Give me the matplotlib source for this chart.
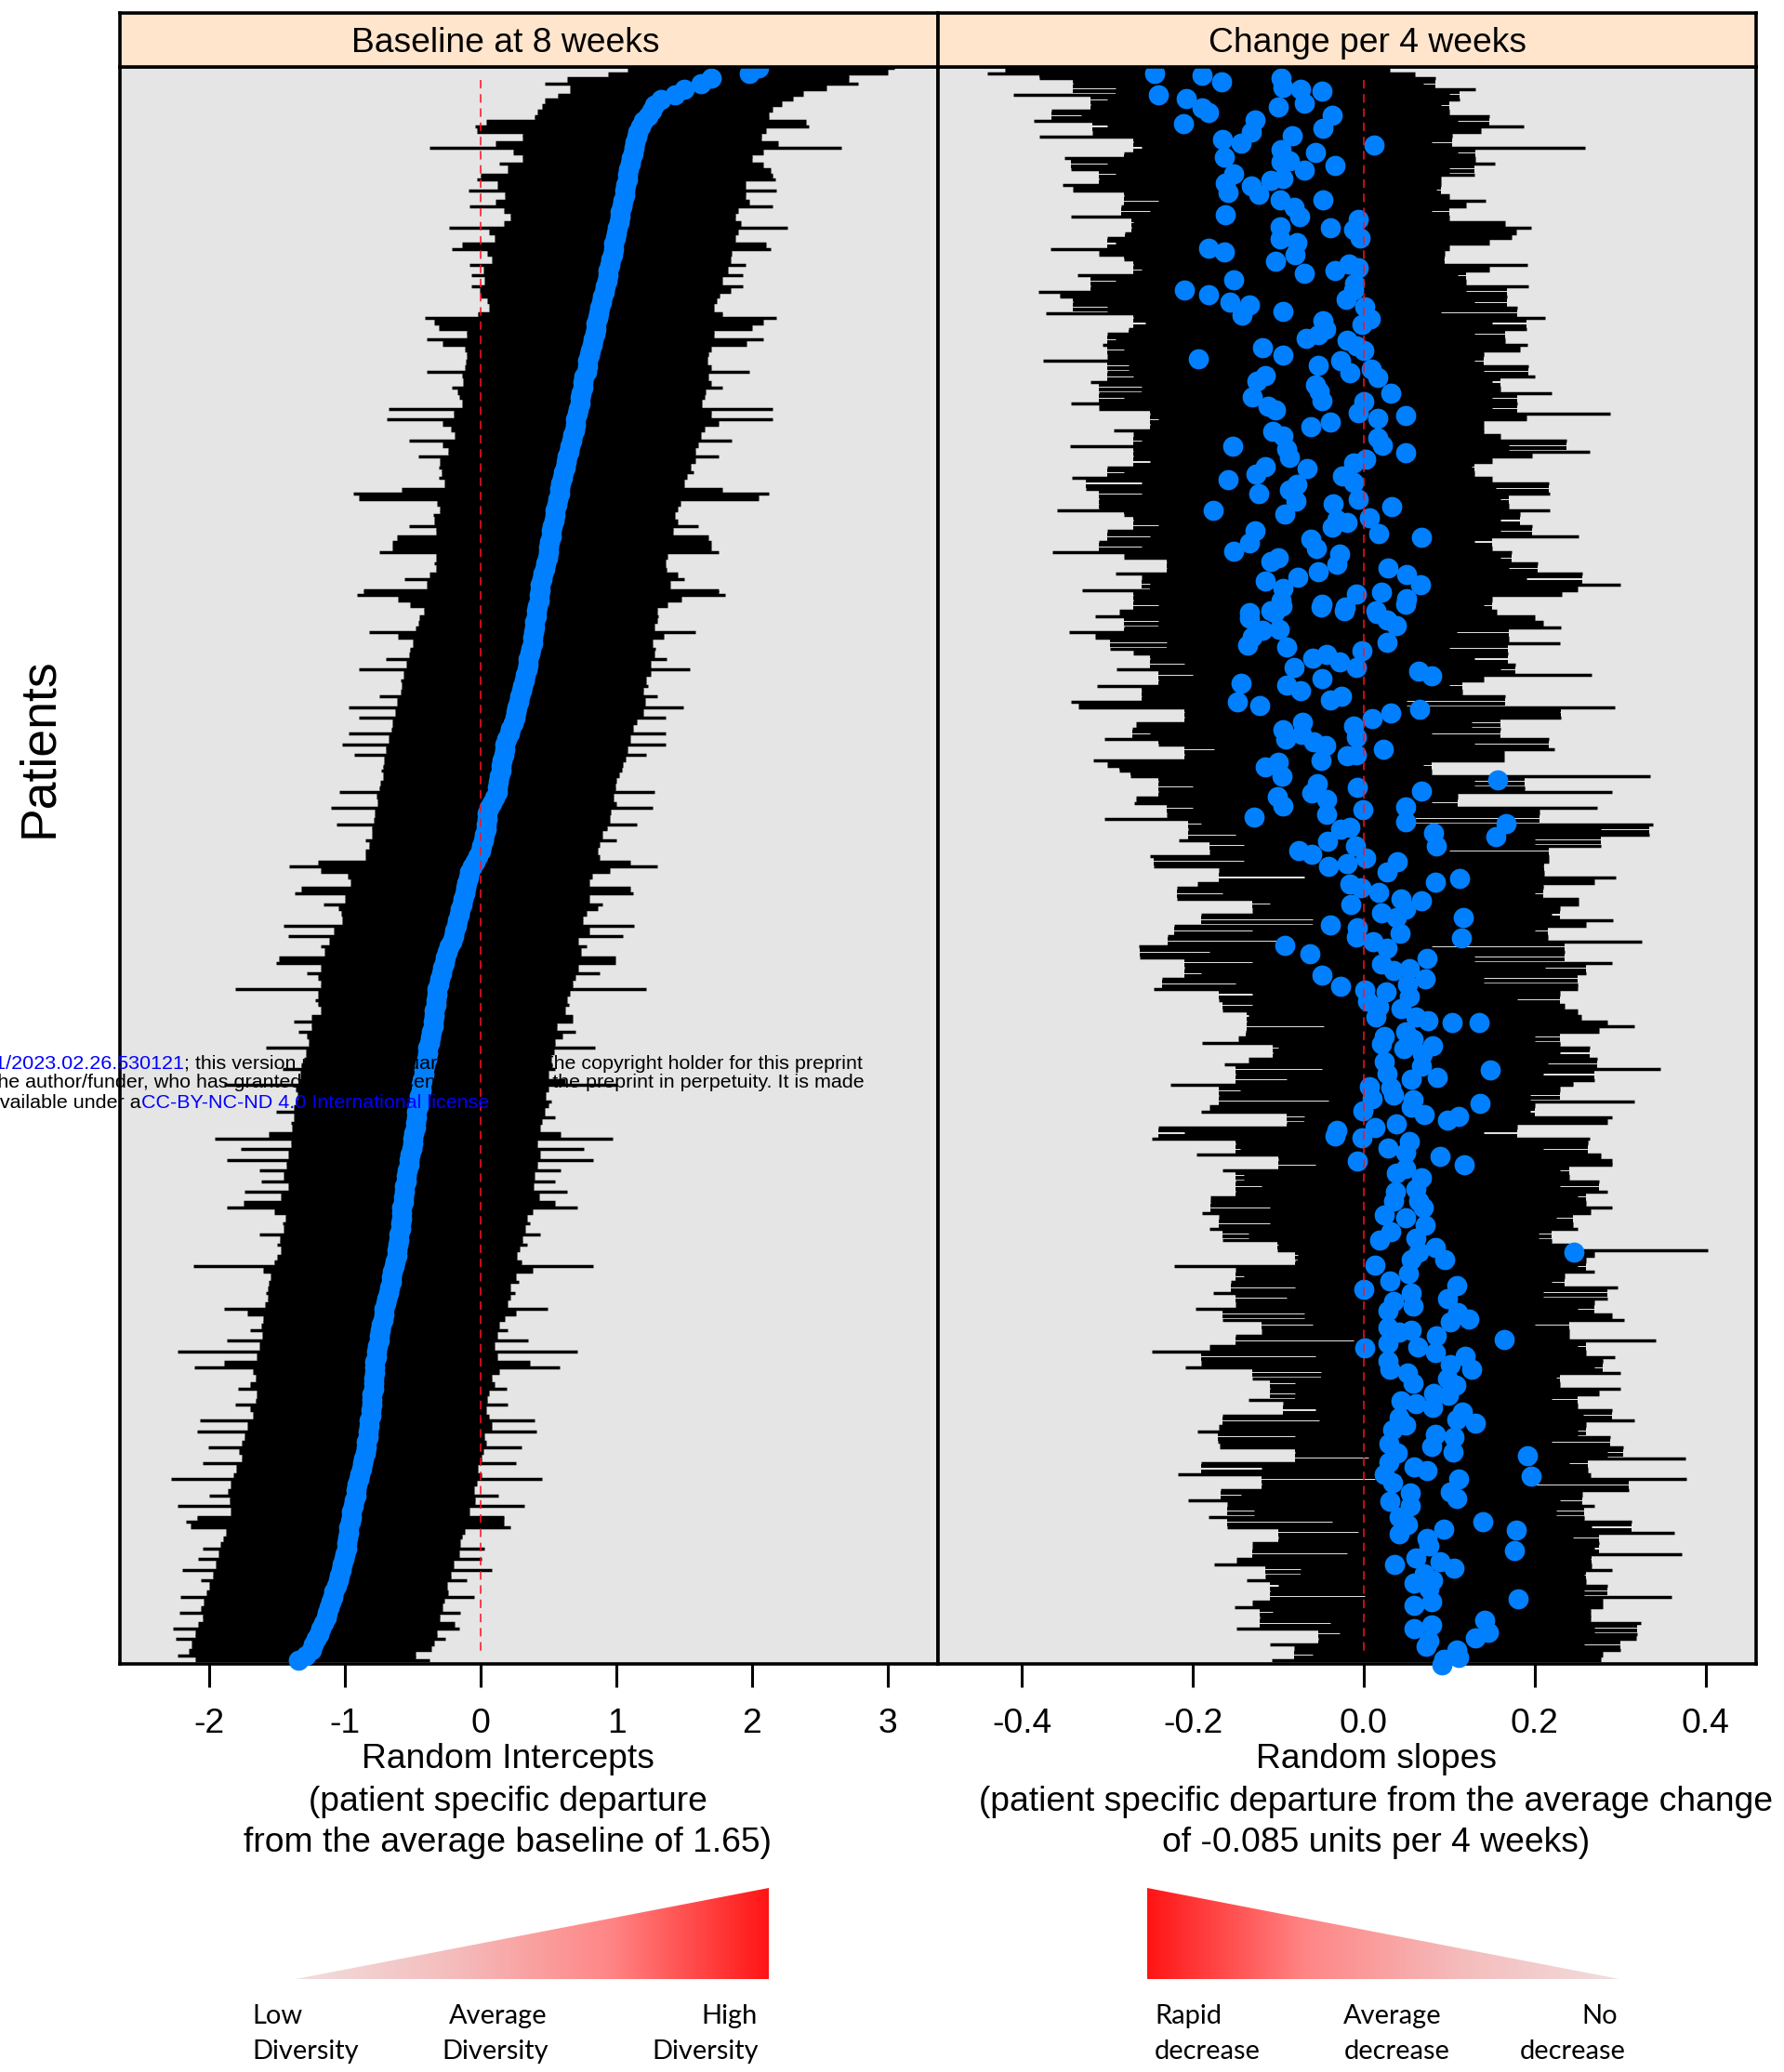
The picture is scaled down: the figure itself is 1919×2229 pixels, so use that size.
#!/usr/bin/env python
# caterpillar plot of patient random effects
import numpy as np
import matplotlib
matplotlib.use("Agg")
import matplotlib.pyplot as plt
from matplotlib.colors import LinearSegmentedColormap
from matplotlib.patches import Polygon

W, H = 1919, 2229

# left panel, one entry per row from top to bottom
intercept_mid = [
    2.05, 1.98, 1.70, 1.62, 1.50, 1.43, 1.33, 1.28, 1.26, 1.23,
    1.20, 1.18, 1.16, 1.15, 1.14, 1.13, 1.12, 1.11, 1.10, 1.09,
    1.08, 1.08, 1.07, 1.06, 1.06, 1.05, 1.04, 1.03, 1.03, 1.02,
    1.01, 1.00, .99, .98, .98, .97, .96, .95, .94, .94,
    .93, .92, .91, .90, .89, .88, .87, .86, .85, .85,
    .84, .83, .82, .81, .80, .79, .79, .78, .76, .75,
    .75, .74, .73, .73, .72, .71, .70, .70, .69, .68,
    .67, .66, .65, .64, .63, .62, .61, .60, .59, .58,
    .58, .57, .56, .55, .55, .54, .53, .52, .52, .51,
    .50, .50, .49, .48, .47, .46, .45, .44, .44, .43,
    .43, .42, .41, .41, .40, .40, .39, .38, .38, .37,
    .36, .35, .35, .34, .33, .32, .31, .30, .29, .28,
    .27, .26, .25, .24, .22, .21, .19, .18, .18, .17,
    .16, .15, .15, .14, .13, .12, .12, .10, .08, .06,
    .05, .05, .04, .04, .03, .02, .01, .00, -.02, -.04,
    -.06, -.08, -.09, -.10, -.11, -.12, -.13, -.14, -.15, -.16,
    -.17, -.18, -.19, -.20, -.21, -.23, -.25, -.26, -.27, -.28,
    -.29, -.30, -.31, -.32, -.32, -.33, -.33, -.34, -.34, -.35,
    -.35, -.36, -.37, -.38, -.39, -.39, -.40, -.41, -.42, -.42,
    -.43, -.44, -.44, -.45, -.45, -.46, -.47, -.47, -.48, -.48,
    -.49, -.50, -.50, -.51, -.52, -.53, -.53, -.54, -.55, -.55,
    -.56, -.56, -.57, -.57, -.58, -.58, -.58, -.59, -.59, -.60,
    -.60, -.61, -.62, -.62, -.63, -.64, -.65, -.66, -.66, -.67,
    -.68, -.69, -.70, -.71, -.71, -.72, -.73, -.74, -.75, -.75,
    -.76, -.77, -.77, -.78, -.78, -.78, -.79, -.79, -.79, -.80,
    -.80, -.80, -.81, -.81, -.82, -.82, -.83, -.83, -.84, -.84,
    -.85, -.86, -.87, -.88, -.89, -.90, -.91, -.92, -.92, -.93,
    -.94, -.95, -.95, -.96, -.97, -.97, -.98, -.99, -.99, -1.00,
    -1.01, -1.02, -1.03, -1.04, -1.05, -1.06, -1.08, -1.09, -1.10, -1.12,
    -1.13, -1.14, -1.16, -1.18, -1.19, -1.21, -1.23, -1.25, -1.29, -1.34,
]

intercept_lo = [
    1.08, .94, .64, .47, .66, .57, .47, .45, .42, .40,
    .04, -.04, -.03, .31, .11, -.38, .24, .31, .14, .20,
    .00, -.03, .12, -.09, .18, .11, -.08, .17, .22, .17,
    -.23, .06, .10, -.14, -.21, .05, .08, -.08, .02, -.07,
    .03, -.07, -.01, .00, .05, .06, -.02, -.41, -.34, -.31,
    -.10, -.40, -.28, -.12, -.10, -.11, -.12, -.40, -.14, -.13,
    -.21, -.17, -.16, -.14, -.68, -.20, -.69, -.28, -.22, -.19,
    -.53, -.28, -.24, -.46, -.30, -.31, -.29, -.31, -.27, -.58,
    -.94, -.90, -.32, -.30, -.35, -.34, -.53, -.33, -.62, -.65,
    -.65, -.75, -.33, -.34, -.33, -.38, -.56, -.40, -.86, -.91,
    -.61, -.52, -.42, -.45, -.46, -.48, -.82, -.61, -.50, -.52,
    -.53, -.70, -.55, -.90, -.57, -.59, -.58, -.59, -.75, -.62,
    -.97, -.63, -.90, -.65, -.66, -.97, -.68, -1.02, -.70, -.93,
    -.71, -.72, -.73, -.72, -.74, -.75, -1.04, -.77, -.76, -1.10,
    -.78, -.79, -1.06, -.80, -.80, -.85, -.82, -.85, -.85, -1.20,
    -1.41, -1.18, -.98, -.96, -1.32, -1.37, -1.00, -1.16, -1.05, -1.03,
    -1.02, -1.45, -1.08, -1.42, -1.12, -1.18, -1.15, -1.49, -1.51, -1.18,
    -1.28, -1.20, -1.18, -1.81, -1.20, -1.22, -1.20, -1.18, -1.25, -1.38,
    -1.25, -1.34, -1.28, -1.27, -1.58, -1.29, -1.30, -1.32, -1.46, -1.33,
    -1.34, -1.89, -1.36, -1.35, -1.36, -1.38, -1.51, -1.38, -1.40, -1.39,
    -1.56, -1.96, -1.40, -1.77, -1.42, -1.87, -1.43, -1.63, -1.45, -1.62,
    -1.42, -1.74, -1.47, -1.75, -1.87, -1.52, -1.44, -1.46, -1.45, -1.63,
    -1.48, -1.50, -1.47, -1.50, -1.52, -2.12, -1.60, -1.55, -1.56, -1.57,
    -1.58, -1.57, -1.59, -1.89, -1.72, -1.60, -1.62, -1.70, -1.61, -1.87,
    -1.63, -2.23, -1.65, -1.89, -2.11, -1.68, -1.66, -1.70, -1.79, -1.65,
    -1.66, -1.81, -1.70, -1.68, -2.07, -1.72, -2.09, -1.74, -1.76, -2.01,
    -1.78, -1.76, -2.05, -1.80, -1.82, -2.28, -1.84, -1.86, -2.00, -1.85,
    -2.23, -1.84, -2.09, -2.17, -2.14, -1.88, -1.90, -1.92, -2.05, -1.93,
    -2.08, -1.95, -2.20, -1.97, -2.06, -2.00, -2.02, -2.21, -2.04, -2.06,
    -2.22, -2.05, -2.08, -2.27, -2.10, -2.25, -2.13, -2.15, -2.23, -2.10,
]

intercept_hi = [
    3.05, 3.00, 2.71, 2.78, 2.55, 2.38, 2.30, 2.22, 2.15, 2.12,
    2.40, 2.42, 2.10, 2.07, 2.19, 2.66, 2.08, 2.00, 2.08, 2.14,
    2.15, 2.17, 1.95, 2.18, 1.95, 1.98, 2.15, 1.90, 1.88, 1.92,
    2.26, 1.90, 1.88, 2.10, 2.14, 1.85, 1.84, 1.95, 1.82, 1.93,
    1.78, 1.93, 1.84, 1.76, 1.74, 1.72, 1.78, 2.18, 2.08, 2.00,
    1.72, 2.08, 1.96, 1.70, 1.68, 1.67, 1.70, 1.98, 1.68, 1.70,
    1.78, 1.66, 1.65, 1.63, 2.15, 1.70, 2.15, 1.75, 1.65, 1.62,
    1.85, 1.60, 1.58, 1.75, 1.58, 1.55, 1.57, 1.52, 1.50, 1.78,
    2.12, 2.05, 1.47, 1.45, 1.43, 1.45, 1.60, 1.42, 1.68, 1.70,
    1.70, 1.75, 1.38, 1.36, 1.37, 1.45, 1.50, 1.40, 1.75, 1.80,
    1.48, 1.38, 1.30, 1.31, 1.30, 1.28, 1.58, 1.35, 1.27, 1.29,
    1.28, 1.37, 1.25, 1.54, 1.25, 1.22, 1.23, 1.20, 1.30, 1.21,
    1.49, 1.20, 1.36, 1.15, 1.12, 1.36, 1.10, 1.36, 1.08, 1.22,
    1.07, 1.05, 1.04, 1.02, 1.00, .99, 1.28, .98, 1.00, 1.27,
    .96, .95, 1.15, .93, .90, 1.00, .88, .86, .88, 1.10,
    1.30, .95, .82, .80, 1.10, 1.12, .80, .90, .86, .78,
    .75, 1.13, .80, 1.05, .72, .78, .74, .99, .99, .72,
    .88, .70, .68, 1.22, .66, .64, .65, .62, .68, .68,
    .56, .70, .60, .55, .84, .54, .52, .53, .55, .50,
    .62, 1.01, .50, .48, .52, .50, .47, .55, .45, .44,
    .59, .97, .42, .76, .44, .83, .42, .59, .40, .55,
    .39, .64, .43, .55, .71, .38, .34, .36, .33, .44,
    .31, .34, .29, .27, .30, .83, .38, .26, .28, .22,
    .25, .22, .20, .49, .26, .18, .14, .20, .12, .35,
    .10, .71, .12, .36, .58, .14, .08, .10, .19, .06,
    .05, .20, .04, .06, .40, .08, .41, .03, .04, .30,
    .02, .01, .26, -.02, .01, .45, -.03, -.05, .13, -.04,
    .32, -.08, .17, .17, .22, -.12, -.14, -.15, .03, -.16,
    .01, -.20, .08, -.22, -.10, -.25, -.24, -.05, -.27, -.28,
    -.15, -.30, -.19, -.16, -.32, -.26, -.34, -.36, -.48, -.38,
]

# right panel whiskers, one entry per row from top to bottom
slope_lo = [
    -.42, -.44, -.38, -.34, -.29, -.41, -.30, -.32, -.365, -.33,
    -.386, -.30, -.318, -.38, -.27, -.26, -.28, -.35, -.30, -.342,
    -.29, -.31, -.352, -.34, -.28, -.24, -.284, -.25, -.342, -.27,
    -.272, -.279, -.30, -.29, -.366, -.31, -.281, -.27, -.26, -.335,
    -.29, -.32, -.381, -.355, -.34, -.30, -.372, -.27, -.255, -.275,
    -.30, -.29, -.305, -.28, -.30, -.375, -.275, -.30, -.27, -.32,
    -.26, -.31, -.28, -.342, -.31, -.25, -.24, -.25, -.293, -.27,
    -.26, -.344, -.27, -.27, -.25, -.30, -.28, -.341, -.26, -.325,
    -.26, -.31, -.31, -.359, -.28, -.27, -.24, -.30, -.25, -.31,
    -.26, -.364, -.28, -.23, -.23, -.29, -.26, -.25, -.329, -.27,
    -.27, -.24, -.286, -.314, -.24, -.28, -.345, -.314, -.23, -.297,
    -.27, -.25, -.21, -.289, -.20, -.24, -.312, -.26, -.26, -.342,
    -.334, -.21, -.21, -.266, -.271, -.25, -.303, -.24, -.175, -.21,
    -.316, -.30, -.286, -.273, -.24, -.20, -.24, -.266, -.269, -.20,
    -.23, -.303, -.19, -.205, -.15, -.216, -.14, -.18, -.25, -.14,
    -.246, -.17, -.07, -.195, -.218, -.165, -.218, -.11, -.13, -.19,
    -.06, -.222, -.13, -.229, -.10, -.263, -.18, -.262, -.13, -.21,
    -.19, -.236, -.15, -.246, -.13, -.17, -.13, -.165, -.135, -.137,
    -.047, -.138, -.147, -.189, -.10, -.106, -.135, -.163, -.049, -.15,
    -.09, -.226, -.145, -.17, -.041, -.18, -.19, -.07, -.09, -.24,
    -.21, -.248, -.15, -.145, -.196, -.10, -.056, -.165, -.14, -.15,
    -.12, -.15, -.179, -.179, -.11, -.189, -.17, -.11, -.18, -.135,
    -.165, -.10, -.101, -.077, -.08, -.222, -.15, -.14, -.155, -.08,
    -.176, -.09, -.15, -.197, -.07, -.165, -.06, -.12, -.15, -.012,
    -.18, -.248, -.056, -.19, -.209, -.05, -.13, -.08, -.11, -.08,
    -.135, -.095, -.057, -.165, -.052, -.17, -.195, -.08, -.171, -.169,
    -.08, .006, -.19, -.12, -.217, .013, -.12, -.167, -.144, -.206,
    -.16, -.128, -.182, -.037, -.16, -.006, -.10, -.13, -.13, -.019,
    -.149, -.175, -.074, -.115, -.137, -.10, -.11, .001, -.13, -.151,
    -.106, -.122, -.039, -.149, -.028, -.053, -.11, -.082, -.06, -.108,
]

slope_hi = [
    .03, .06, .084, .07, .131, .10, .112, .09, .10, .147,
    .11, .187, .137, .103, .08, .259, .11, .131, .153, .10,
    .129, .09, .09, .085, .10, .142, .12, .08, .10, .165,
    .196, .178, .173, .147, .10, .095, .094, .192, .147, .11,
    .12, .193, .12, .168, .13, .18, .09, .212, .15, .19,
    .13, .165, .192, .183, .14, .13, .193, .14, .20, .15,
    .16, .22, .15, .18, .15, .288, .19, .14, .14, .16,
    .237, .17, .264, .197, .15, .126, .13, .15, .216, .155,
    .218, .16, .17, .218, .183, .16, .197, .16, .251, .13,
    .15, .173, .16, .203, .17, .256, .19, .30, .25, .232,
    .15, .14, .156, .20, .21, .231, .109, .17, .23, .10,
    .169, .13, .177, .16, .267, .14, .10, .115, .165, .05,
    .294, .23, .231, .126, .16, .08, .216, .13, .223, .164,
    .164, .07, .08, .335, .13, .188, .29, .11, .08, .273,
    .206, .06, .338, .277, .334, .20, .277, .10, .216, .217,
    .21, .211, .295, .27, .21, .20, .251, .251, .23, .22,
    .292, .26, .20, .215, .325, .08, .235, .13, .29, .212,
    .26, .14, .25, .25, .23, .18, .235, .25, .255, .285,
    .317, .275, .20, .23, .264, .23, .273, .215, .347, .21,
    .27, .245, .23, .195, .316, .20, .195, .29, .285, .18,
    .14, .264, .262, .21, .277, .29, .29, .23, .24, .275,
    .23, .285, .25, .26, .29, .265, .225, .245, .25, .205,
    .22, .24, .402, .27, .26, .25, .27, .235, .22, .297,
    .21, .285, .27, .25, .29, .305, .20, .24, .24, .342,
    .25, .26, .294, .28, .27, .30, .225, .23, .30, .275,
    .22, .25, .29, .257, .316, .26, .25, .288, .22, .303,
    .285, .376, .24, .262, .265, .377, .20, .31, .256, .23,
    .27, .225, .258, .313, .266, .363, .245, .275, .27, .372,
    .265, .266, .29, .258, .26, .285, .258, .36, .28, .28,
    .265, .265, .324, .27, .32, .319, .258, .30, .28, .277,
]

# right panel points: slope and row position
slope_dot = [
    -.245, -.189, -.166, -.097, -.094, -.074, -.049, -.240, -.208, -.189,
    -.181, -.070, -.100, -.037, -.127, -.211, -.048, -.132, -.084, -.165,
    -.144, .012, -.097, -.057, -.163, -.097, -.087, -.034, -.069, -.152,
    -.162, -.109, -.094, -.131, -.159, -.123, -.098, -.048, -.081, -.162,
    -.075, -.098, -.006, -.039, -.012, -.004, -.098, -.078, -.182, -.163,
    -.080, -.103, -.017, -.034, -.069, -.006, -.152, -.011, -.210, -.182,
    -.012, -.021, -.157, -.134, -.142, -.094, .001, .008, -.048, -.002,
    -.044, -.067, -.053, -.019, -.009, .000, -.119, -.095, -.193, -.027,
    -.053, -.016, .009, .016, -.115, -.125, -.056, -.052, .032, -.130,
    -.049, .000, -.112, -.103, -.006, .049, .016, -.039, -.062, -.107,
    -.094, .016, .022, -.153, -.090, -.087, .049, .002, -.012, -.115,
    -.126, -.066, -.025, -.159, -.012, -.078, -.087, -.123, -.006, -.079,
    -.036, .033, -.176, -.092, .007, -.019, -.031, -.037, -.127, .017,
    -.062, .067, -.134, -.055, -.152, -.028, -.031, -.100, -.109, .028,
    -.053, -.077, .050, -.115, .066, -.094, .021, -.009, .050, -.097,
    -.049, -.022, .014, -.109, -.134,
    -.134, -.104, -.096, -.050, -.023, .015, .027, .038, .049, -.099,
    -.118, -.130, -.136, -.090, .027, -.002, -.060, -.043, -.028, -.009,
    -.081, .064, .080, -.143, -.049, -.090, -.074, -.026, -.039, -.148,
    -.122, .065, .032, .010, -.072, -.012, -.094, -.091, -.073, -.009,
    -.059, -.044, .023, -.020, -.009, -.050, -.100, -.115, -.096, .157,
    -.054, -.007, -.061, .067, -.101, -.043, -.094, .049, -.001, -.043,
    -.128, .049, .167, -.027, -.016, .082, -.042, .155, -.010, .085,
    -.076, -.061, .002, .039, -.020, -.041, .027, .112, .084, -.016,
    -.003, .017, .044, .068, -.015, .021, .038, .049, .116, -.039,
    -.007, .043, -.009, .011, .114, -.092, .027, -.063, .074, .021,
    .035, .053, -.049, .072, .051, -.027, .001, .026, .053, .004,
    .018, .044, .014, .061, .075, .103, .135,
    .024, .049, .058, .021, .081, .047, .069, .024, .068, .148,
    .027, .055, .086, .007, .032, .010, .035, .058, .136, .055,
    -.001, .071, .111, .098, .038, .013, -.032, -.034, -.002, .053,
    .028, .049, .089, .118, -.008, .038, .049, .067, .037, .061,
    .035, .064, .070, .024, .049, .072, .032, .019, .061, .084,
    .064, .246, .095, .055, .013, .052, .030, .109, .000, .056,
    .098, .035, .058, .028, .110, .123, .101, .028, .055, .041,
    .085, .164, .028, .063, .001, .084, .119, .028, .101, .126,
    .030, .051, .098, .058, .108, .082, .099, .044, .061, .081,
    .115,
    .131, .109, .041, .049, .034, .084, .106, .029, .080, .104,
    .191, .039, .029, .059, .074, .024, .111, .196, .034, .101,
    .054, .031, .109, .054, .041, .139, .051, .094, .041, .178,
    .074, .076, .176, .061, .089, .036, .106, .071, .081, .059,
    .076, .181, .059, .079, .141, .146, .131, .059, .079, .076,
    .109, .073, .094, .111, .091,
]

slope_row = [
    1.0, 1.4, 2.7, 2.0, 3.7, 4.0, 4.4, 5.0, 5.8, 7.5,
    8.4, 6.7, 7.3, 8.9, 9.7, 10.4, 11.3, 12.1, 12.7, 13.5,
    14.2, 14.5, 15.4, 15.9, 16.7, 17.7, 17.4, 18.4, 19.2, 19.9,
    21.7, 21.1, 20.7, 22.1, 23.4, 23.8, 24.8, 24.8, 26.1, 27.6,
    27.9, 29.8, 28.4, 30.0, 30.4, 31.9, 32.1, 32.8, 33.8, 34.6,
    35.0, 36.3, 36.8, 38.0, 38.6, 37.6, 39.8, 40.5, 41.8, 42.6,
    41.8, 43.5, 43.9, 44.5, 46.5, 45.7, 44.8, 47.1, 47.5, 48.1,
    49.1, 50.8, 50.1, 51.1, 52.1, 53.1, 52.6, 54.0, 54.7, 55.0,
    55.8, 57.2, 56.5, 58.2, 57.8, 58.8, 59.5, 60.8, 61.0, 61.7,
    62.4, 62.6, 63.5, 64.2, 64.8, 65.2, 65.8, 66.5, 67.3, 68.2,
    69.2, 69.5, 70.8, 71.0, 71.5, 73.2, 72.2, 73.5, 74.2, 74.9,
    76.2, 75.3, 76.7, 77.4, 77.9, 78.2, 79.3, 79.9, 80.9, 81.3,
    81.9, 82.3, 83.1, 83.7, 84.4, 85.4, 84.9, 86.2, 86.9, 87.5,
    88.4, 88.2, 89.2, 90.2, 90.8, 91.2, 93.2, 92.0, 92.6, 93.9,
    94.6, 95.6, 95.2, 96.4, 97.0, 97.7, 98.4, 98.7, 99.6, 100.0,
    100.7, 101.2, 102.0, 101.9, 102.2,
    103.3, 102.2, 101.0, 101.3, 101.9, 102.4, 103.6, 104.7, 100.7, 105.4,
    105.6, 106.8, 108.4, 108.8, 107.9, 109.5, 110.9, 110.2, 111.6, 112.5,
    112.6, 113.3, 114.1, 115.5, 114.7, 115.8, 116.9, 117.9, 118.6, 119.0,
    119.7, 120.4, 121.1, 122.1, 122.8, 123.5, 124.3, 126.0, 125.1, 125.7,
    126.6, 127.2, 128.0, 129.2, 128.9, 130.0, 130.4, 131.2, 133.0, 133.7,
    134.3, 135.0, 136.1, 135.8, 136.8, 137.3, 138.5, 138.8, 139.3, 140.1,
    140.7, 141.5, 141.9, 142.9, 142.6, 143.6, 145.2, 144.4, 146.1, 146.0,
    146.9, 147.7, 148.3, 149.0, 149.4, 150.0, 151.0, 152.2, 152.8, 153.2,
    153.9, 154.8, 156.0, 156.4, 157.0, 158.6, 159.5, 158.0, 159.5, 160.9,
    161.5, 162.4, 163.1, 164.1, 163.4, 164.7, 165.3, 166.3, 167.2, 168.2,
    169.5, 169.1, 170.3, 171.0, 172.0, 172.4, 173.1, 173.4, 174.3, 175.2,
    176.3, 176.6, 178.1, 178.2, 178.9, 179.2, 179.2,
    181.9, 181.0, 182.4, 183.3, 183.6, 184.2, 185.1, 186.5, 187.4, 188.1,
    188.8, 189.8, 189.5, 191.2, 191.5, 193.5, 192.9, 193.8, 194.4, 195.2,
    195.8, 196.5, 196.8, 197.6, 198.2, 198.9, 199.5, 200.5, 200.8, 201.6,
    202.8, 203.7, 204.4, 205.9, 205.2, 207.5, 206.6, 208.3, 211.0, 210.4,
    212.7, 212.7, 213.9, 215.3, 215.9, 217.2, 218.5, 220.0, 219.7, 221.4,
    222.3, 222.3, 223.7, 223.7, 224.7, 226.4, 227.8, 228.6, 229.3, 230.1,
    231.0, 231.6, 232.5, 233.4, 233.6, 234.9, 235.5, 236.5, 237.0, 237.4,
    238.0, 238.7, 239.5, 240.2, 240.4, 241.2, 241.8, 242.7, 243.4, 244.3,
    244.4, 245.0, 246.1, 247.0, 247.3, 248.8, 249.3, 250.2, 250.8, 251.4,
    252.3,
    254.4, 253.7, 253.4, 254.8, 255.7, 256.6, 257.1, 258.3, 258.9, 259.8,
    260.6, 260.1, 261.8, 262.7, 263.4, 264.1, 265.0, 264.4, 265.6, 267.3,
    267.6, 269.1, 268.5, 269.9, 272.0, 272.9, 273.4, 274.3, 275.2, 274.6,
    276.1, 277.5, 278.4, 279.8, 280.4, 280.9, 281.6, 282.7, 283.9, 284.5,
    285.6, 287.5, 288.6, 288.0, 291.5, 293.8, 294.8, 293.0, 292.3, 295.2,
    297.0, 296.4, 298.7, 298.4, 299.9,
]

left_ticks = [-2, -1, 0, 1, 2, 3]
right_ticks = [-0.4, -0.2, 0.0, 0.2, 0.4]
right_tick_labels = ["-0.4", "-0.2", "0.0", "0.2", "0.4"]

BLUE = "#0080ff"
PANEL = "#e5e5e5"
STRIP = "#ffe5cc"
SIZE = 26.8


def px_axes(fig, x0, y0, x1, y1, **kw):
    return fig.add_axes([x0 / W, 1 - y1 / H, (x1 - x0) / W, (y1 - y0) / H], **kw)


def fig_text(fig, x, y, s, **kw):
    kw.setdefault("ha", "center")
    kw.setdefault("va", "center")
    kw.setdefault("fontsize", SIZE)
    return fig.text(x / W, 1 - y / H, s, **kw)


def whiskers(ax, lo, hi, hairlines=False):
    lo = np.array(lo)
    hi = np.array(hi)
    rows = np.arange(len(lo))
    ax.hlines(rows, lo, hi, color="black", lw=2.5, zorder=2)
    # bridge the gaps between neighbours so the middle reads solid
    ax.hlines(rows[:-1] + 0.5, np.maximum(lo[:-1], lo[1:]), np.minimum(hi[:-1], hi[1:]),
              color="black", lw=2.4, zorder=2)
    if hairlines:
        # a short row between two long ones only leaves a hairline
        lo2 = np.maximum(lo[:-2], lo[2:])
        hi2 = np.minimum(hi[:-2], hi[2:])
        ax.hlines(rows[:-2] + 0.55, lo2, hi2, color="black", lw=2.9, zorder=2)
        ax.hlines(rows[:-2] + 1.45, lo2, hi2, color="black", lw=2.9, zorder=2)


def panel(fig, x0, x1, xlim, ticks, labels, title, title_x):
    ax = px_axes(fig, x0, 72, x1, 1790, facecolor=PANEL)
    ax.set_xlim(*xlim)
    ax.set_ylim(299.65, -0.17)
    ax.set_yticks([])
    ax.set_xticks(ticks)
    ax.set_xticklabels(labels, fontsize=SIZE)
    ax.tick_params(axis="x", length=18, width=2.2, pad=16)
    for s in ax.spines.values():
        s.set_linewidth(2.6)

    strip = px_axes(fig, x0, 14, x1, 72, facecolor=STRIP, zorder=5)
    strip.set_xticks([])
    strip.set_yticks([])
    for s in strip.spines.values():
        s.set_linewidth(2.6)
    fig_text(fig, title_x, 46, title, zorder=6)
    return ax


def ref_line(ax):
    ax.plot([0, 0], [2.2, 297.5], color="#ff1020", lw=1.1, dashes=(6, 4), zorder=4)


def wedge(fig, x0, x1, tip_left):
    ax = px_axes(fig, x0, 2031, x1, 2129)
    ax.axis("off")
    cmap = LinearSegmentedColormap.from_list("w", ["#f2dede", "#f5bcbc", "#ff8585", "#ff1414"])
    grad = np.linspace(0, 1, 256)[None, :]
    if not tip_left:
        grad = grad[:, ::-1]
    im = ax.imshow(grad, cmap=cmap, aspect="auto", extent=(0, 1, 0, 1))
    corners = [(0, 0), (1, 0), (1, 1)] if tip_left else [(0, 0), (1, 0), (0, 1)]
    tri = Polygon(corners, transform=ax.transData, fc="none", ec="none")
    ax.add_patch(tri)
    im.set_clip_path(tri)


plt.rcParams["font.family"] = ["Liberation Sans", "DejaVu Sans"]
fig = plt.figure(figsize=(W / 100, H / 100), dpi=100, facecolor="white")

ax1 = panel(fig, 129, 1009, (-2.658, 3.37), left_ticks, [str(t) for t in left_ticks], "Baseline at 8 weeks", 544)
whiskers(ax1, intercept_lo, intercept_hi)
ax1.scatter(intercept_mid, np.arange(len(intercept_mid)), s=245, color=BLUE, lw=0, zorder=3, clip_on=False)
ref_line(ax1)

ax2 = panel(fig, 1009, 1889, (-0.498, 0.459), right_ticks, right_tick_labels, "Change per 4 weeks", 1471)
whiskers(ax2, slope_lo, slope_hi, hairlines=True)
ax2.scatter(slope_dot, slope_row, s=245, color=BLUE, lw=0, zorder=3, clip_on=False)
ref_line(ax2)

fig_text(fig, 42, 804, "Patients", rotation=90, fontsize=38.5)

fig_text(fig, 546, 1893, "Random Intercepts")
fig_text(fig, 546, 1938, "(patient specific departure")
fig_text(fig, 546, 1983, "from the average baseline of 1.65)")
fig_text(fig, 1480, 1893, "Random slopes")
fig_text(fig, 1480, 1938, "(patient specific departure from the average change")
fig_text(fig, 1480, 1983, "of -0.085 units per 4 weeks)")

wedge(fig, 318, 827, True)
wedge(fig, 1234, 1742, False)

small = dict(fontsize=20.9, family="Lato")
fig_text(fig, 271, 2169, "Low", ha="left", **small)
fig_text(fig, 271, 2207, "Diversity", ha="left", **small)
fig_text(fig, 536, 2169, "Average", **small)
fig_text(fig, 533, 2207, "Diversity", **small)
fig_text(fig, 815, 2169, "High", ha="right", **small)
fig_text(fig, 816, 2207, "Diversity", ha="right", **small)
fig_text(fig, 1242, 2169, "Rapid", ha="left", **small)
fig_text(fig, 1242, 2207, "decrease", ha="left", **small)
fig_text(fig, 1498, 2169, "Average", **small)
fig_text(fig, 1503, 2207, "decrease", **small)
fig_text(fig, 1740, 2169, "No", ha="right", **small)
fig_text(fig, 1749, 2207, "decrease", ha="right", **small)

# preprint watermark, runs off the left edge like the original
mark = dict(fontsize=15.45, zorder=20)
fig_text(fig, 198, 1144, "doi: https://doi.org/10.1101/2023.02.26.530121", ha="right", color="#0000ff", **mark)
fig_text(fig, 198, 1144, "; this version posted February 26, 2023. The copyright holder for this preprint", ha="left", **mark)
fig_text(fig, 930, 1165, "(which was not certified by peer review) is the author/funder, who has granted bioRxiv a license to display the preprint in perpetuity. It is made", ha="right", **mark)
fig_text(fig, 152, 1187, "available under a", ha="right", **mark)
fig_text(fig, 152, 1187, "CC-BY-NC-ND 4.0 International license", ha="left", color="#0000ff", **mark)

fig.savefig("out.png", dpi=100)
